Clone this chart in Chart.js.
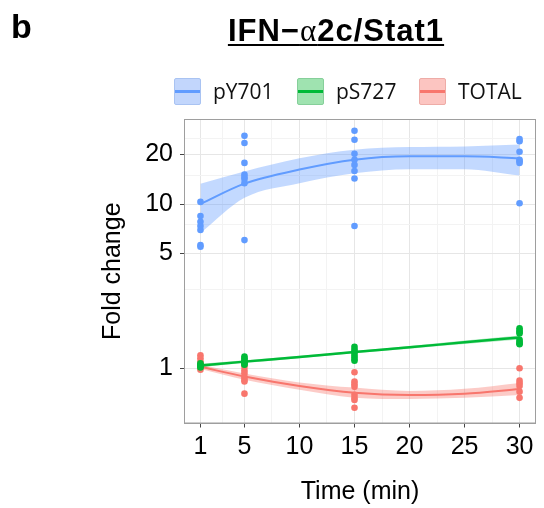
<!DOCTYPE html>
<html>
<head>
<meta charset="utf-8">
<script src="https://cdn.jsdelivr.net/npm/chart.js@4.4.1/dist/chart.umd.min.js"></script>
<style>
  html, body { margin: 0; padding: 0; background: #fff; }
  #wrap { position: relative; width: 544px; height: 508px; overflow: hidden; }
  #chart { position: absolute; left: 0; top: 0; }
  .panel-tag { position: absolute; left: 11px; top: 7px; font: bold 34px "Liberation Sans", Arial, sans-serif; color: #000; }
  .title { position: absolute; left: 0; width: 672px; top: 13px; text-align: center; font: bold 31px "Liberation Sans", Arial, sans-serif; letter-spacing: 1px; color: #000; text-decoration: underline; text-decoration-thickness: 2px; text-underline-offset: 3px; }
  .title .greek { font-family: "Liberation Serif", serif; font-weight: normal; }
  .legend { position: absolute; top: 77px; left: 0; height: 28px; }
  .legend .item { position: absolute; top: 0; height: 28px; display: flex; align-items: center; }
  .legend .key { width: 25px; height: 25px; border: 1px solid; border-radius: 2px; position: relative; margin-right: 12px; }
  .legend .key i { position: absolute; left: 0; right: 0; top: 11px; height: 3px; }
  .legend .lbl { font: 21px "Open Sans", sans-serif; color: #111; }
</style>
</head>
<body>
<div id="wrap">
  <canvas id="chart" width="544" height="508"></canvas>
  <div class="panel-tag">b</div>
  <div class="title">IFN&minus;<span class="greek">&alpha;</span>2c/Stat1</div>
  <div class="legend" id="legend"></div>
</div>
<script>
// ── Data ─────────────────────────────────────────────────────────────
var seriesNames = ['pY701', 'pS727', 'TOTAL'];
var sampleTimes = [1, 5, 15, 30];

// replicate measurements per sample time (fold change)
var pY701Obs = [
  [10.3, 8.45, 7.8, 7.34, 6.94, 5.62, 5.49],
  [26.0, 23.5, 17.8, 15.1, 14.6, 14.2, 13.4, 6.03],
  [27.9, 24.6, 20.2, 18.6, 17.3, 15.9, 14.3, 7.34],
  [24.9, 24.1, 20.8, 18.6, 18.2, 17.8, 10.1]
];
var pS727Obs = [
  [1.07, 1.05, 1.04, 1.02, 1.01],
  [1.18, 1.15, 1.12, 1.10, 1.08, 1.06, 1.05],
  [1.35, 1.30, 1.26, 1.22, 1.18, 1.14, 1.11],
  [1.75, 1.70, 1.66, 1.63, 1.49, 1.45, 1.42, 1.40]
];
var totalObs = [
  [1.20, 1.15, 1.10, 1.06, 1.03, 1.00, 0.98],
  [1.02, 0.97, 0.93, 0.88, 0.85, 0.83, 0.70],
  [0.946, 0.83, 0.80, 0.77, 0.69, 0.66, 0.64, 0.575],
  [1.00, 0.84, 0.81, 0.78, 0.72, 0.66]
];

// smooth fit and confidence band
var fitTimes = [1, 5, 10, 15, 20, 25, 30];
var pY701Fit = [10.0, 13.3, 16.2, 18.6, 19.5, 19.5, 19.0];
var pY701Lo  = [6.65, 10.9, 13.4, 15.4, 16.3, 16.3, 14.9];
var pY701Hi  = [13.3, 15.8, 19.0, 21.4, 22.2, 22.4, 23.0];
var pS727Fit = [1.04, 1.097, 1.17, 1.256, 1.34, 1.44, 1.54];
var pS727Lo  = [1.015, 1.075, 1.15, 1.235, 1.315, 1.405, 1.495];
var pS727Hi  = [1.065, 1.12, 1.19, 1.275, 1.365, 1.475, 1.585];
var totalFit = [1.02, 0.89, 0.78, 0.71, 0.687, 0.70, 0.748];
var totalLo  = [0.99, 0.85, 0.74, 0.662, 0.65, 0.66, 0.688];
var totalHi  = [1.05, 0.93, 0.82, 0.762, 0.727, 0.75, 0.814];

// axes
var xMajor = [1, 5, 10, 15, 20, 25, 30];
var xMinor = [3, 7.5, 12.5, 17.5, 22.5, 27.5];
var yMajor = [1, 5, 10, 20];
var yMinor = [3, 7.5, 15, 25];

// ── Helpers ──────────────────────────────────────────────────────────
var colors = {
  pY701: { line: '#619CFF', band: 'rgba(97, 156, 255, 0.38)', key: '#c2d6fc', keyBorder: '#a9c3f2' },
  pS727: { line: '#00BA38', band: 'rgba(0, 186, 56, 0.30)',   key: '#9fe3b0', keyBorder: '#86cf9a' },
  TOTAL: { line: '#F8766D', band: 'rgba(248, 118, 109, 0.38)', key: '#fcc5c1', keyBorder: '#eeaca7' }
};

function toPoints(obs) {
  var pts = [];
  obs.forEach(function (vals, i) {
    vals.forEach(function (v) { pts.push({ x: sampleTimes[i], y: v }); });
  });
  return pts;
}
function toCurve(vals) {
  return vals.map(function (v, i) { return { x: fitTimes[i], y: v }; });
}
function bandSets(name, lo, hi) {
  return [
    { label: name + ' hi', data: toCurve(hi), showLine: true, fill: '+1', backgroundColor: colors[name].band,
      borderWidth: 0, pointRadius: 0, cubicInterpolationMode: 'monotone', order: 3 },
    { label: name + ' lo', data: toCurve(lo), showLine: true, fill: false, borderWidth: 0,
      pointRadius: 0, cubicInterpolationMode: 'monotone', order: 3 }
  ];
}
function fitSet(name, fit, w) {
  return { label: name, data: toCurve(fit), showLine: true, fill: false, borderColor: colors[name].line,
    borderWidth: w, pointRadius: 0, cubicInterpolationMode: 'monotone', order: 2 };
}
function pointSet(name, obs) {
  return { label: name + ' obs', data: toPoints(obs), showLine: false, backgroundColor: colors[name].line,
    borderWidth: 0, pointRadius: 3.3, order: 1 };
}

// ── Legend (HTML) ────────────────────────────────────────────────────
var legendLeft = [174, 297, 419];
var legendEl = document.getElementById('legend');
seriesNames.forEach(function (name, i) {
  var item = document.createElement('div');
  item.className = 'item';
  item.style.left = legendLeft[i] + 'px';
  item.innerHTML = '<div class="key" style="background:' + colors[name].key + ';border-color:' + colors[name].keyBorder +
    '"><i style="background:' + colors[name].line + '"></i></div><span class="lbl">' + name + '</span>';
  legendEl.appendChild(item);
});

// ── Chart ────────────────────────────────────────────────────────────
var frame = {
  id: 'frame',
  afterDraw: function (chart) {
    var a = chart.chartArea, c = chart.ctx;
    c.save();
    c.strokeStyle = '#9e9e9e';
    c.lineWidth = 1;
    c.strokeRect(a.left, a.top, a.right - a.left, a.bottom - a.top);
    c.restore();
  }
};

var datasets = [].concat(
  [pointSet('pY701', pY701Obs), pointSet('pS727', pS727Obs), pointSet('TOTAL', totalObs)],
  [fitSet('pY701', pY701Fit, 2), fitSet('pS727', pS727Fit, 2.5), fitSet('TOTAL', totalFit, 2)],
  bandSets('pY701', pY701Lo, pY701Hi),
  bandSets('pS727', pS727Lo, pS727Hi),
  bandSets('TOTAL', totalLo, totalHi)
);

var axisFont = { family: '"Liberation Sans", Arial, sans-serif', size: 25 };

new Chart(document.getElementById('chart'), {
  type: 'scatter',
  data: { datasets: datasets },
  options: {
    responsive: false,
    animation: false,
    layout: { padding: { left: 0, top: 119.5, right: 8.5, bottom: 0 } },
    plugins: { legend: { display: false }, tooltip: { enabled: false } },
    scales: {
      x: {
        type: 'linear',
        min: -0.45,
        max: 31.45,
        afterBuildTicks: function (s) {
          s.ticks = xMajor.concat(xMinor).sort(function (a, b) { return a - b; }).map(function (v) { return { value: v }; });
        },
        afterFit: function (s) { s.height = 85; },
        ticks: {
          autoSkip: false, maxRotation: 0, padding: 5, color: '#000', font: axisFont,
          callback: function (v) { return xMajor.indexOf(v) >= 0 ? String(v) : ''; }
        },
        grid: {
          color: function (ctx) { return xMajor.indexOf(ctx.tick && ctx.tick.value) >= 0 ? '#e6e6e6' : '#f3f3f3'; },
          tickColor: function (ctx) { return xMajor.indexOf(ctx.tick && ctx.tick.value) >= 0 ? '#444' : 'rgba(0,0,0,0)'; },
          tickLength: 4.5,
          lineWidth: 1
        },
        border: { display: true, color: '#9e9e9e' },
        title: { display: true, text: 'Time (min)', color: '#000', font: axisFont, padding: { top: 0, bottom: 1 } }
      },
      y: {
        type: 'logarithmic',
        min: 0.464,
        max: 32.7,
        afterBuildTicks: function (s) {
          s.ticks = yMajor.concat(yMinor).sort(function (a, b) { return a - b; }).map(function (v) { return { value: v }; });
        },
        afterFit: function (s) { s.width = 184.5; },
        ticks: {
          autoSkip: false, padding: 7, color: '#000', font: axisFont,
          callback: function (v) { return yMajor.indexOf(v) >= 0 ? String(v) : ''; }
        },
        grid: {
          color: function (ctx) { return yMajor.indexOf(ctx.tick && ctx.tick.value) >= 0 ? '#e6e6e6' : '#f3f3f3'; },
          tickColor: function (ctx) { return yMajor.indexOf(ctx.tick && ctx.tick.value) >= 0 ? '#444' : 'rgba(0,0,0,0)'; },
          tickLength: 4.5,
          lineWidth: 1
        },
        border: { display: true, color: '#9e9e9e' },
        title: { display: true, text: 'Fold change', color: '#000', font: axisFont, padding: { top: 98, bottom: 0 } }
      }
    }
  },
  plugins: [frame]
});
</script>
</body>
</html>
